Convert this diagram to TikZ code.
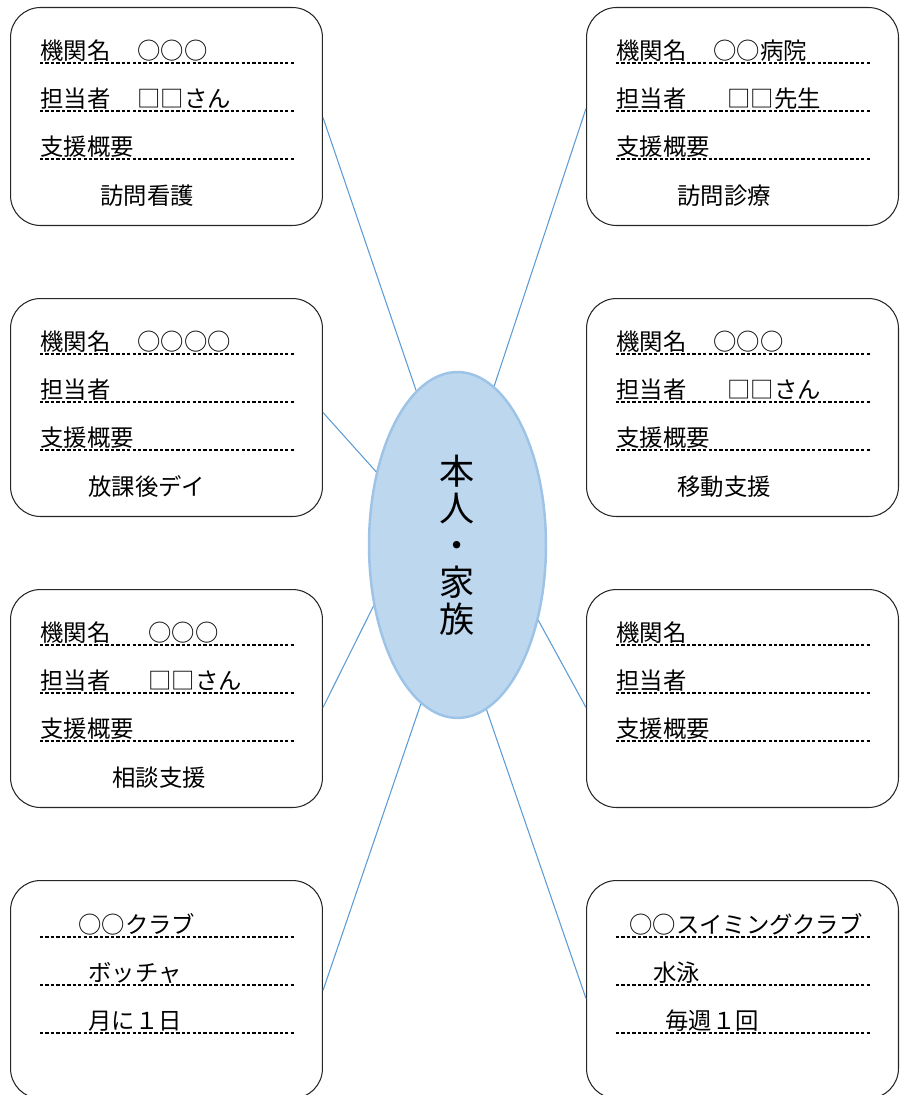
\documentclass[tikz,border=0pt]{standalone}
\usepackage{fontspec}
\setmainfont{Noto Sans CJK JP}
\usetikzlibrary{shapes.geometric}
\definecolor{linkblue}{HTML}{5B9BD5}
\definecolor{ellborder}{HTML}{9DC3E6}
\definecolor{ellfill}{HTML}{BDD7EE}
\begin{document}
\begin{tikzpicture}[x=0.02cm,y=-0.02cm,
 box/.style={draw=black!85, line width=0.6pt, rounded corners=0.6cm, minimum width=6.24cm, minimum height=4.36cm, anchor=north west, inner sep=0pt},
 txt/.style={anchor=base west, inner sep=0pt, font=\fontsize{13.3}{16}\selectfont},
 dotline/.style={line width=0.9pt, dash pattern=on 1.9pt off 1.2pt},
 conn/.style={draw=linkblue, line width=0.6pt},
 ell/.style={ellipse, draw=ellborder, fill=ellfill, line width=1.4pt, minimum width=3.54cm, minimum height=6.92cm, inner sep=0pt, align=center, font=\fontsize{20}{21}\selectfont}]
\useasboundingbox (0,0) rectangle (900,1095);
\clip (0,0) rectangle (900,1095);

% boxes
\node[box] (b1) at (10,7) {};
\node[box] (b2) at (586,7) {};
\node[box] (b3) at (10,298) {};
\node[box] (b4) at (586,298) {};
\node[box] (b5) at (10,589) {};
\node[box] (b6) at (586,589) {};
\node[box] (b7) at (10,880) {};
\node[box] (b8) at (586,880) {};

% dotted lines
\foreach \bx/\by in {10/7,586/7,10/298,586/298,10/589,586/589}{
  \foreach \dy in {56,104,152}{
    \draw[dotline] (\bx+30,\by+\dy) -- (\bx+284,\by+\dy);
  }
}
\foreach \bx/\by in {10/880,586/880}{
  \foreach \dy in {57,105,153}{
    \draw[dotline] (\bx+30,\by+\dy) -- (\bx+284,\by+\dy);
  }
}

% box 1
\node[txt] (b1a) at (40,59.5) {機関名};
\node[txt] (b1av) at (137,59.5) {○○○};
\node[txt] (b1b) at (40,107.5) {担当者};
\node[txt] (b1bv) at (137,107.5) {□□さん};
\node[txt] (b1c) at (40,155.5) {支援概要};
\node[txt] (b1d) at (100,204) {訪問看護};
% box 2
\node[txt] (b2a) at (616,59.5) {機関名};
\node[txt] (b2av) at (713,59.5) {○○病院};
\node[txt] (b2b) at (616,107.5) {担当者};
\node[txt] (b2bv) at (727,107.5) {□□先生};
\node[txt] (b2c) at (616,155.5) {支援概要};
\node[txt] (b2d) at (677,204) {訪問診療};
% box 3
\node[txt] (b3a) at (40,350.5) {機関名};
\node[txt] (b3av) at (137,350.5) {○○○○};
\node[txt] (b3b) at (40,398.5) {担当者};
\node[txt] (b3c) at (40,446.5) {支援概要};
\node[txt] (b3d) at (88,495) {放課後デイ};
% box 4
\node[txt] (b4a) at (616,350.5) {機関名};
\node[txt] (b4av) at (713,350.5) {○○○};
\node[txt] (b4b) at (616,398.5) {担当者};
\node[txt] (b4bv) at (727,398.5) {□□さん};
\node[txt] (b4c) at (616,446.5) {支援概要};
\node[txt] (b4d) at (677,495) {移動支援};
% box 5
\node[txt] (b5a) at (40,641.5) {機関名};
\node[txt] (b5av) at (148,641.5) {○○○};
\node[txt] (b5b) at (40,689.5) {担当者};
\node[txt] (b5bv) at (148,689.5) {□□さん};
\node[txt] (b5c) at (40,737.5) {支援概要};
\node[txt] (b5d) at (112,786) {相談支援};
% box 6
\node[txt] (b6a) at (616,641.5) {機関名};
\node[txt] (b6b) at (616,689.5) {担当者};
\node[txt] (b6c) at (616,737.5) {支援概要};
% box 7
\node[txt] (b7a) at (78,933.5) {○○クラブ};
\node[txt] (b7b) at (88,981.5) {ボッチャ};
\node[txt] (b7c) at (88,1029.5) {月に１日};
% box 8
\node[txt] (b8a) at (629,933.5) {○○スイミングクラブ};
\node[txt] (b8b) at (653,981.5) {水泳};
\node[txt] (b8c) at (665,1029.5) {毎週１回};

% centre
\node[ell] (E) at (457.5,545) {本\\人\\・\\家\\族};

% connectors
\draw[conn] ([yshift=-0.02cm]b1.east) -- (E.105.9);
\draw[conn] ([yshift=0.16cm]b2.west) -- (E.77.1);
\draw[conn] ([yshift=-0.1cm]b3.east) -- (E.138.5);
\draw[conn] ([yshift=-0.18cm]b5.east) -- (E.216);
\draw[conn] ([yshift=-0.18cm]b6.west) -- (E.317.9);
\draw[conn] ([yshift=-0.02cm]b7.east) -- (E.257.5);
\draw[conn] ([yshift=-0.18cm]b8.west) -- (E.280);
\end{tikzpicture}
\end{document}
